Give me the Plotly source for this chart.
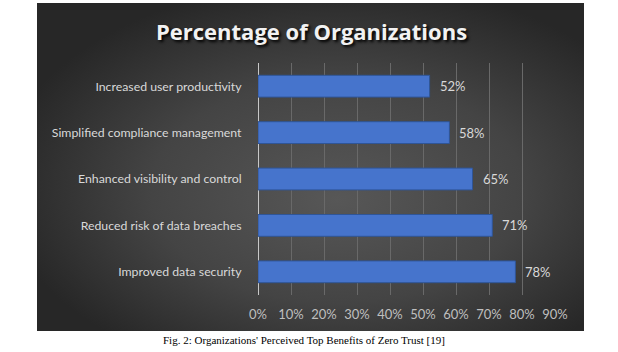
import base64
import plotly.graph_objects as go

categories = [
    "Improved data security",
    "Reduced risk of data breaches",
    "Enhanced visibility and control",
    "Simplified compliance management",
    "Increased user productivity",
]
values = [0.78, 0.71, 0.65, 0.58, 0.52]
tick_vals = [0, 0.1, 0.2, 0.3, 0.4, 0.5, 0.6, 0.7, 0.8, 0.9]
tick_text = ["0%", "10%", "20%", "30%", "40%", "50%", "60%", "70%", "80%", "90%"]
title_text = "Percentage of Organizations"
caption_text = "Fig. 2: Organizations' Perceived Top Benefits of Zero Trust [19]"

W, H = 618, 352
L, R, T, B = 258, 63, 63, 57
pw, ph = W - L - R, H - T - B


def px_to_paper_x(px):
    return (px - L) / pw


def py_to_paper_y(py):
    return (H - B - py) / ph


svg = """<svg xmlns='http://www.w3.org/2000/svg' width='546' height='328' viewBox='0 0 546 328' preserveAspectRatio='none'>
<defs><radialGradient id='g' cx='0.55' cy='0.55' r='0.62' fx='0.55' fy='0.6'>
<stop offset='0' stop-color='#575757'/><stop offset='0.55' stop-color='#444444'/><stop offset='1' stop-color='#272727'/>
</radialGradient></defs>
<rect width='546' height='328' fill='url(#g)'/></svg>"""
src = "data:image/svg+xml;base64," + base64.b64encode(svg.encode()).decode()

fig = go.Figure()
fig.add_trace(go.Bar(
    x=values, y=categories, orientation="h",
    marker=dict(color="#4674cc", line=dict(color="#2f5597", width=1)),
    width=0.47, hoverinfo="skip",
))

annotations = []
for c, v in zip(categories, values):
    annotations.append(dict(
        x=v, y=c, xref="x", yref="y", text=f"{round(v*100)}%",
        showarrow=False, xanchor="left", xshift=8,
        font=dict(family="Lato", size=13, color="#d9d9d9"),
    ))

x0 = px_to_paper_x(37)
x1 = px_to_paper_x(584)
y1 = py_to_paper_y(3)
y0 = py_to_paper_y(331)

annotations.append(dict(
    x=px_to_paper_x(311), y=py_to_paper_y(31), xref="paper", yref="paper",
    text="<b>" + title_text + "</b>", showarrow=False, xanchor="center", yanchor="middle",
    font=dict(family="Open Sans", size=22, color="#f2f2f2", shadow="2px 2px 3px #000000"),
))
annotations.append(dict(
    x=px_to_paper_x(304), y=py_to_paper_y(340), xref="paper", yref="paper",
    text=caption_text, showarrow=False, xanchor="center", yanchor="middle",
    font=dict(family="Liberation Serif", size=11, color="#000000"),
))

fig.update_layout(
    width=W, height=H,
    margin=dict(l=L, r=R, t=T, b=B, pad=0),
    paper_bgcolor="#ffffff", plot_bgcolor="rgba(0,0,0,0)",
    showlegend=False,
    bargap=0.53,
    images=[dict(source=src, xref="paper", yref="paper", x=x0, y=y1,
                 sizex=x1 - x0, sizey=y1 - y0, xanchor="left", yanchor="top",
                 sizing="stretch", layer="below")],
    xaxis=dict(range=[0, 0.9], tickvals=tick_vals, ticktext=tick_text,
               showgrid=True, gridcolor="#696969", gridwidth=1,
               zeroline=True, zerolinecolor="#c8c8c8", zerolinewidth=1,
               ticks="outside", ticklen=7, tickcolor="rgba(0,0,0,0)",
               tickfont=dict(family="Lato", size=13, color="#bfbfbf"),
               fixedrange=True),
    yaxis=dict(categoryorder="array", categoryarray=categories,
               showgrid=False, zeroline=False,
               ticks="outside", ticklen=13, tickcolor="rgba(0,0,0,0)",
               tickfont=dict(family="Lato", size=12.3, color="#d9d9d9"),
               fixedrange=True),
    annotations=annotations,
)

fig.write_html("out.html")
